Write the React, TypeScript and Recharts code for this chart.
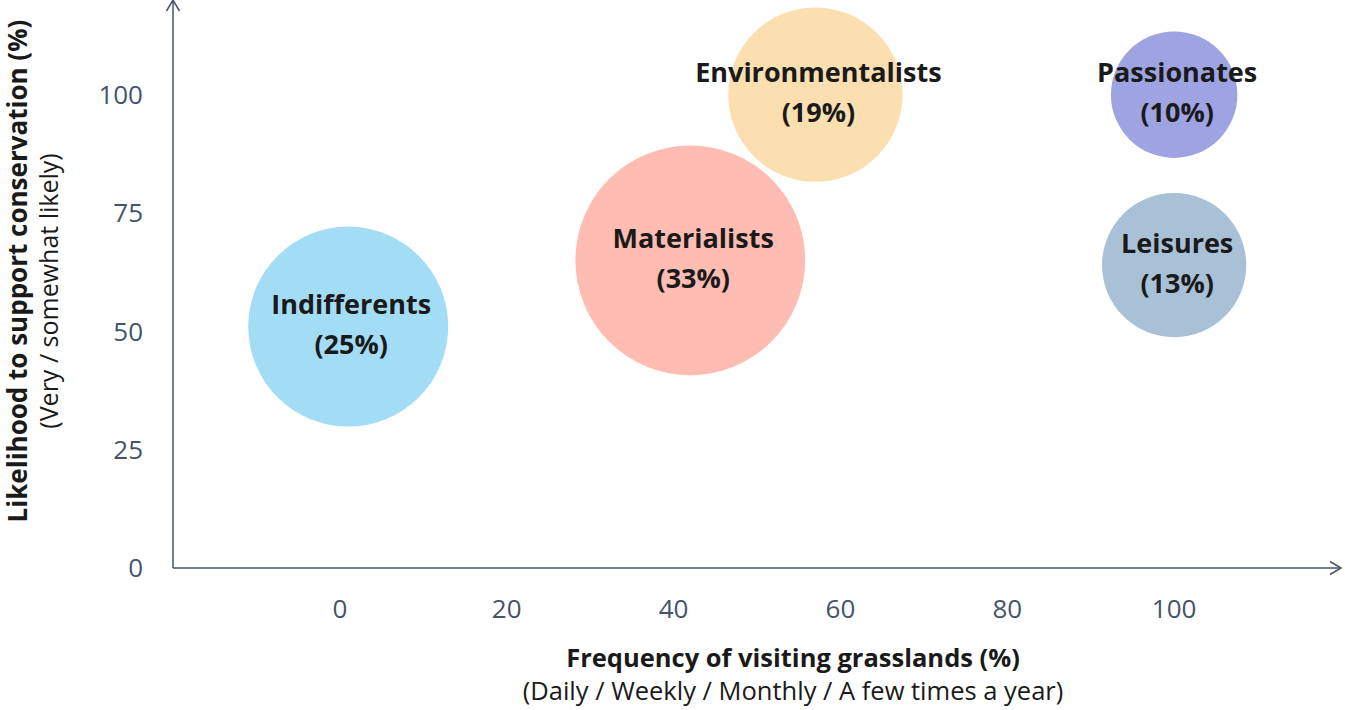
import { ScatterChart, Scatter, XAxis, YAxis, ZAxis, Cell } from 'recharts'

document.body.style.margin = '0'

// segments of grassland visitors
const segments = ['Indifferents', 'Materialists', 'Environmentalists', 'Passionates', 'Leisures']
const frequency = [1, 42, 57, 100, 100]
const likelihood = [51, 65, 100, 100, 64]
const share = [25, 33, 19, 10, 13]
const palette = ['#a3dcf5', '#ffbcb3', '#fbdfb0', '#9ea3e1', '#a9c1d6']

const xTicks = [0, 20, 40, 60, 80, 100]
const yTicks = [0, 25, 50, 75, 100]

const AXIS = '#44546a'
const INK = '#1a1a1a'
const FONT = '"Open Sans", "Noto Sans", sans-serif'

const data = segments.map((name, i) => ({ name, freq: frequency[i], likely: likelihood[i], share: share[i] }))

function Bubble(props: any) {
  const { cx, cy, width, fill, payload } = props
  const txt = { textAnchor: 'middle' as const, dominantBaseline: 'central' as const, fontFamily: FONT, fontSize: 27, fontWeight: 700, fill: INK }
  return (
    <g>
      <circle cx={cx} cy={cy} r={width / 2} fill={fill} />
      <text x={cx + 3} y={cy - 23} {...txt}>{payload.name}</text>
      <text x={cx + 3} y={cy + 17} {...txt}>({payload.share}%)</text>
    </g>
  )
}

function XTitle({ viewBox }: any) {
  const mid = viewBox.x + viewBox.width / 2 + 36
  return (
    <g fontFamily={FONT} fill={INK} textAnchor="middle">
      <text x={mid} y={viewBox.y + 99} fontSize={25.5} fontWeight={700}>Frequency of visiting grasslands (%)</text>
      <text x={mid} y={viewBox.y + 132} fontSize={25.5}>(Daily / Weekly / Monthly / A few times a year)</text>
    </g>
  )
}

function YTitle({ viewBox }: any) {
  const bx = viewBox.x + 27
  const sx = viewBox.x + 58
  return (
    <g fontFamily={FONT} fill={INK} textAnchor="middle">
      <text x={bx} y={271} fontSize={26} fontWeight={700} transform={`rotate(-90, ${bx}, 271)`}>
        Likelihood to support conservation (%)
      </text>
      <text x={sx} y={291} fontSize={25} transform={`rotate(-90, ${sx}, 291)`}>(Very / somewhat likely)</text>
    </g>
  )
}

export default function App() {
  const axisLine = { stroke: AXIS, strokeWidth: 1.5 }
  const tick = { fill: AXIS, fontSize: 26, fontFamily: FONT }
  return (
    <ScatterChart width={1345} height={710} margin={{ top: 0, right: 4, bottom: 0, left: 0 }}>
      <defs>
        <marker id="arrow" viewBox="0 0 16 16" refX={14} refY={8} markerWidth={16} markerHeight={16}
          markerUnits="userSpaceOnUse" orient="auto-start-reverse">
          <path d="M3,1.5 L14,8 L3,14.5" fill="none" stroke={AXIS} strokeWidth={1.5} />
        </marker>
      </defs>
      <XAxis type="number" dataKey="freq" domain={[-20, 120]} ticks={xTicks} height={142}
        tick={tick} tickLine={false} tickSize={0} tickMargin={32}
        axisLine={{ ...axisLine, markerEnd: 'url(#arrow)' }}
        label={{ content: XTitle }} />
      <YAxis type="number" dataKey="likely" domain={[0, 120]} ticks={yTicks} width={173}
        tick={tick} tickLine={false} tickSize={0} tickMargin={30}
        axisLine={{ ...axisLine, markerStart: 'url(#arrow)' }}
        label={{ content: YTitle }} />
      <ZAxis type="number" dataKey="share" domain={[0, 33]} range={[0, 33 * 400 * Math.PI]} />
      <Scatter data={data} shape={Bubble} isAnimationActive={false}>
        {data.map((d, i) => <Cell key={d.name} fill={palette[i]} />)}
      </Scatter>
    </ScatterChart>
  )
}
